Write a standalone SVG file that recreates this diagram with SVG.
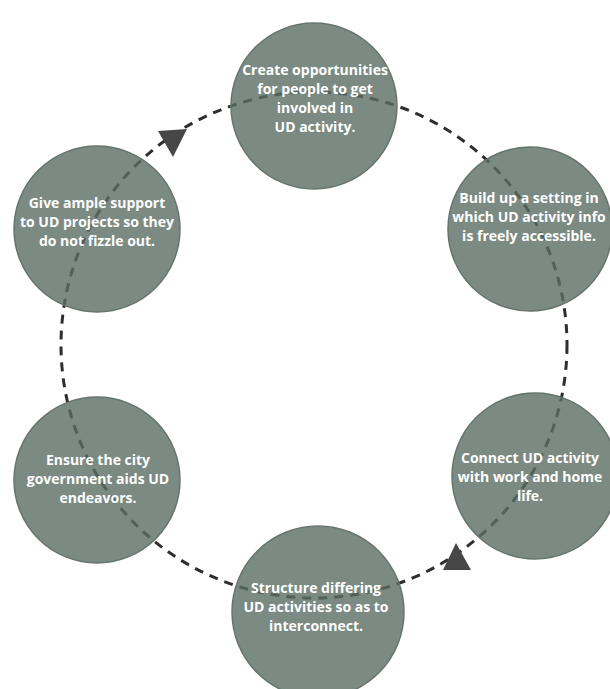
<svg xmlns="http://www.w3.org/2000/svg" width="610" height="689" viewBox="0 0 610 689">
<style>
.ring{fill:none;stroke:#2e2e2e;stroke-width:3;stroke-dasharray:9 7}
.arrow{fill:#474747}
.node circle{fill:rgb(90,109,99);fill-opacity:0.8;stroke:#65756d;stroke-width:1.5}
.node text{fill:#ffffff;font-family:"Open Sans","Liberation Sans",Arial,sans-serif;font-weight:bold;font-size:14px;text-anchor:middle}
</style>
<rect width="610" height="689" fill="#ffffff"/>
<g id="connectors">
<circle class="ring" cx="314" cy="345" r="253"/>
<polygon class="arrow" points="158,131 187,129 173,157"/>
<polygon class="arrow" points="456,543 443,570 471,570"/>
</g>
<g id="node-top" class="node">
<circle cx="314" cy="106" r="83"/>
<text x="315" y="75">Create opportunities</text>
<text x="315" y="94">for people to get</text>
<text x="315" y="113">involved in</text>
<text x="315" y="132">UD activity.</text>
</g>
<g id="node-upper-right" class="node">
<circle cx="530" cy="229" r="82"/>
<text x="529" y="203">Build up a setting in</text>
<text x="529" y="222">which UD activity info</text>
<text x="529" y="241">is freely accessible.</text>
</g>
<g id="node-lower-right" class="node">
<circle cx="535" cy="476" r="83"/>
<text x="530" y="463">Connect UD activity</text>
<text x="530" y="482">with work and home</text>
<text x="530" y="501">life.</text>
</g>
<g id="node-bottom" class="node">
<circle cx="318" cy="612" r="86"/>
<text x="316" y="593">Structure differing</text>
<text x="316" y="612">UD activities so as to</text>
<text x="316" y="631">interconnect.</text>
</g>
<g id="node-lower-left" class="node">
<circle cx="97" cy="480" r="83"/>
<text x="98" y="465">Ensure the city</text>
<text x="98" y="484">government aids UD</text>
<text x="98" y="503">endeavors.</text>
</g>
<g id="node-upper-left" class="node">
<circle cx="97" cy="229" r="83"/>
<text x="97" y="208">Give ample support</text>
<text x="97" y="227">to UD projects so they</text>
<text x="97" y="246">do not fizzle out.</text>
</g>
</svg>
